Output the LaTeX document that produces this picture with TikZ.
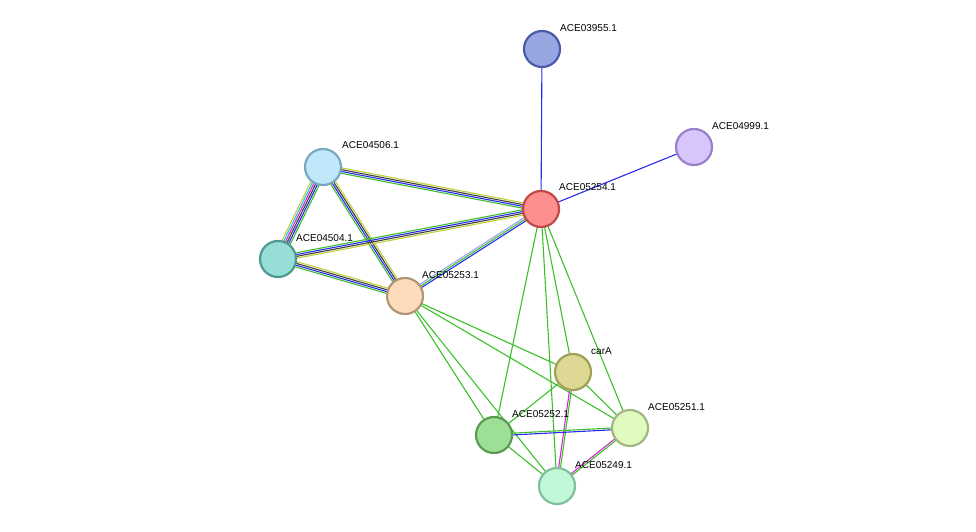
\documentclass[tikz,border=0pt]{standalone}
\usepackage{fontspec}
\setmainfont{Liberation Sans}
\usetikzlibrary{calc}
\definecolor{egreen}{HTML}{3CBF2A}
\definecolor{eblue}{HTML}{2A2AEE}
\definecolor{eblack}{HTML}{404040}
\definecolor{eyellow}{HTML}{C0D23A}
\definecolor{epink}{HTML}{D22AD2}
\definecolor{ecyan}{HTML}{30C0E0}
\definecolor{elight}{HTML}{A0A0F0}
\tikzstyle{prot} = [circle, minimum size=36pt, line width=2.2pt, inner sep=0pt]
\tikzstyle{plabel} = [font=\fontsize{10}{11}\selectfont, anchor=west, inner sep=1pt]
\tikzstyle{link} = [line width=1.1pt]
% parallel coloured lines between two proteins
\newcommand{\multiedge}[4]{%
  \foreach \c [count=\i] in {#4} {
    \draw [\c, link] let \p1=($(#2)-(#1)$), \n1={atan2(\y1,\x1)},
        \n2={(\i-(#3+1)/2)*1.8} in
      ($(#1)+(\n1+90:\n2 pt)$) -- ($(#2)+(\n1+90:\n2 pt)$);
  }}
\begin{document}
\begin{tikzpicture}[x=1pt, y=-1pt]
    \useasboundingbox (0,0) rectangle (976,532);

    \coordinate (c03955) at (542,49);
    \coordinate (c04999) at (694,147);
    \coordinate (c05254) at (541,209);
    \coordinate (c04506) at (323,167);
    \coordinate (c04504) at (278,259);
    \coordinate (c05253) at (405,296);
    \coordinate (ccarA) at (573,372);
    \coordinate (c05252) at (494,435);
    \coordinate (c05251) at (630,428);
    \coordinate (c05249) at (557,486);

    % edges
    \multiedge{c03955}{c05254}{1}{eblue}
    \multiedge{c04999}{c05254}{1}{eblue}
    \multiedge{c04506}{c05254}{4}{egreen,eblue,eblack,eyellow}
    \multiedge{c04506}{c04504}{6}{eyellow,ecyan,epink,eblack,eblue,egreen}
    \multiedge{c04506}{c05253}{4}{egreen,eblue,eblack,eyellow}
    \multiedge{c04504}{c05254}{4}{eyellow,eblack,eblue,egreen}
    \multiedge{c04504}{c05253}{4}{egreen,eblue,eblack,eyellow}
    \multiedge{c05253}{c05254}{3}{eblue,egreen,elight}
    \multiedge{c05254}{ccarA}{1}{egreen}
    \multiedge{c05254}{c05252}{1}{egreen}
    \multiedge{c05254}{c05251}{1}{egreen}
    \multiedge{c05254}{c05249}{1}{egreen}
    \multiedge{c05253}{ccarA}{1}{egreen}
    \multiedge{c05253}{c05252}{1}{egreen}
    \multiedge{c05253}{c05251}{1}{egreen}
    \multiedge{c05253}{c05249}{1}{egreen}
    \multiedge{ccarA}{c05252}{1}{egreen}
    \multiedge{ccarA}{c05251}{1}{egreen}
    \multiedge{ccarA}{c05249}{2}{epink,egreen}
    \multiedge{c05252}{c05251}{2}{eblue,egreen}
    \multiedge{c05252}{c05249}{1}{egreen}
    \multiedge{c05251}{c05249}{2}{epink,egreen}

    % proteins
    \node (n03955) [prot, fill={rgb,255:red,151;green,165;blue,224}, draw={rgb,255:red,74;green,90;blue,168}] at (c03955) {};
    \node (n04999) [prot, fill={rgb,255:red,215;green,197;blue,251}, draw={rgb,255:red,154;green,128;blue,200}] at (c04999) {};
    \node (n05254) [prot, fill={rgb,255:red,253;green,143;blue,143}, draw={rgb,255:red,192;green,74;blue,74}] at (c05254) {};
    \node (n04506) [prot, fill={rgb,255:red,192;green,232;blue,251}, draw={rgb,255:red,122;green,168;blue,192}] at (c04506) {};
    \node (n04504) [prot, fill={rgb,255:red,150;green,222;blue,214}, draw={rgb,255:red,78;green,154;blue,144}] at (c04504) {};
    \node (n05253) [prot, fill={rgb,255:red,253;green,220;blue,188}, draw={rgb,255:red,176;green,149;blue,120}] at (c05253) {};
    \node (ncarA) [prot, fill={rgb,255:red,221;green,217;blue,149}, draw={rgb,255:red,160;green,160;blue,88}] at (ccarA) {};
    \node (n05252) [prot, fill={rgb,255:red,158;green,223;blue,150}, draw={rgb,255:red,90;green,154;blue,82}] at (c05252) {};
    \node (n05251) [prot, fill={rgb,255:red,224;green,251;blue,191}, draw={rgb,255:red,160;green,184;blue,128}] at (c05251) {};
    \node (n05249) [prot, fill={rgb,255:red,192;green,248;blue,216}, draw={rgb,255:red,128;green,192;blue,160}] at (c05249) {};

    % labels
    \node (l03955) [plabel] at ($(c03955)+(17,-21)$) {ACE03955.1};
    \node (l04999) [plabel] at ($(c04999)+(17,-21)$) {ACE04999.1};
    \node (l05254) [plabel] at ($(c05254)+(17,-22)$) {ACE05254.1};
    \node (l04506) [plabel] at ($(c04506)+(18,-22)$) {ACE04506.1};
    \node (l04504) [plabel] at ($(c04504)+(17,-21)$) {ACE04504.1};
    \node (l05253) [plabel] at ($(c05253)+(16,-21)$) {ACE05253.1};
    \node (lcarA) [plabel] at ($(ccarA)+(17,-21)$) {carA};
    \node (l05252) [plabel] at ($(c05252)+(17,-21)$) {ACE05252.1};
    \node (l05251) [plabel] at ($(c05251)+(17,-21)$) {ACE05251.1};
    \node (l05249) [plabel] at ($(c05249)+(17,-21)$) {ACE05249.1};
\end{tikzpicture}
\end{document}
